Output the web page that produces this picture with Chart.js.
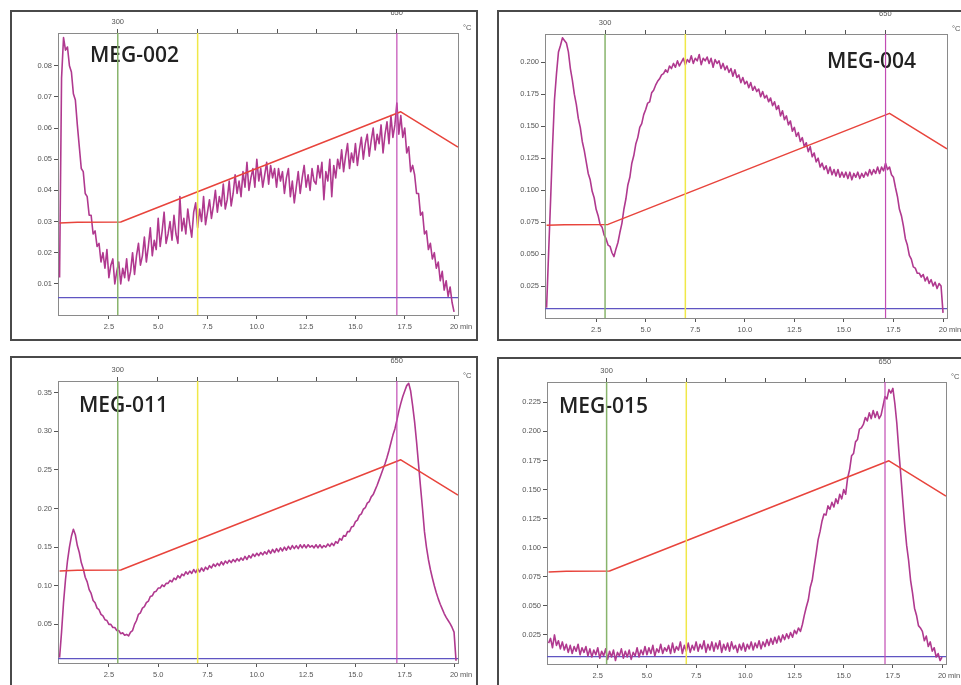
<!DOCTYPE html>
<html>
<head>
<meta charset="utf-8">
<title>MEG thermograms</title>
<script src="https://cdn.jsdelivr.net/npm/chart.js@4.4.0/dist/chart.umd.min.js"></script>
<style>
  html, body { margin: 0; padding: 0; background: #fff; }
  body { width: 961px; height: 685px; position: relative; overflow: hidden; }
  .panel { position: absolute; }
  .panel canvas { position: absolute; left: 0; top: 0; }
  .frame { position: absolute; left: 0; top: 0; box-sizing: border-box; border: 2px solid #4a4a4a; pointer-events: none; }
</style>
</head>
<body>
  <div class="panel" style="left:10px;top:10px;">
    <canvas id="c1" width="468" height="331"></canvas>
    <div class="frame" style="width:468px;height:331px"></div>
  </div>
  <div class="panel" style="left:497px;top:10px;">
    <canvas id="c2" width="464" height="331"></canvas>
    <div class="frame" style="width:490px;height:331px"></div>
  </div>
  <div class="panel" style="left:10px;top:356px;">
    <canvas id="c3" width="468" height="329"></canvas>
    <div class="frame" style="width:468px;height:345px"></div>
  </div>
  <div class="panel" style="left:497px;top:357px;">
    <canvas id="c4" width="464" height="328"></canvas>
    <div class="frame" style="width:490px;height:345px"></div>
  </div>

<script>
// signal readings are stored every 0.1 min, starting at t = 0
const SAMPLE_STEP = 0.1;

// time axis (min)
const TIME_MIN = -0.08;
const TIME_MAX = 20.2;
const timeTicks = [2.5, 5, 7.5, 10, 12.5, 15, 17.5, 20];

// temperature axis along the top (°C)
const TEMP_AXIS_MIN = 225;
const TEMP_AXIS_MAX = 727;
const tempTicks = [300, 350, 400, 450, 500, 550, 600, 650];
const tempTicksLabelled = [300, 650];

// furnace program: time (min) / temperature (°C)
const tempTimes = [0, 0.9, 3.1, 17.3, 20.2];
const tempValues = [297, 299, 300, 650, 538];
const TEMP_SCALE_MIN = 5;
const TEMP_SCALE_MAX = 900;

// event markers (min): 300 °C, 400 °C, 650 °C
const markerTimes = [2.95, 7.0, 17.1];

const sampleNames = ['MEG-002', 'MEG-004', 'MEG-011', 'MEG-015'];
const baselineLevels = [0.0056, 0.0073, 0.0057, 0.0063];

const meg002 = [
  .012, .076, .089, .085, .086, .080, .078, .071, .069, .061,
  .054, .047, .046, .039, .038, .032, .032, .026, .027, .022,
  .023, .017, .020, .015, .021, .012, .016, .018, .010, .014,
  .017, .010, .015, .012, .018, .011, .014, .020, .013, .019,
  .023, .016, .019, .025, .017, .022, .028, .019, .024, .021,
  .031, .022, .027, .033, .023, .026, .030, .024, .032, .026,
  .023, .038, .027, .031, .026, .034, .029, .025, .033, .036,
  .028, .034, .030, .038, .029, .033, .037, .031, .035, .040,
  .033, .038, .035, .042, .034, .037, .043, .035, .039, .045,
  .039, .043, .038, .046, .041, .049, .040, .044, .047, .041,
  .050, .043, .047, .041, .045, .049, .042, .048, .044, .047,
  .041, .047, .043, .046, .039, .044, .047, .038, .043, .036,
  .041, .046, .039, .044, .048, .041, .045, .040, .047, .043,
  .042, .048, .044, .049, .037, .046, .043, .050, .038, .048,
  .044, .050, .047, .053, .046, .051, .055, .047, .052, .049,
  .055, .048, .053, .057, .050, .055, .058, .051, .056, .060,
  .053, .058, .055, .061, .052, .058, .062, .055, .064, .057,
  .061, .068, .058, .064, .057, .060, .052, .054, .046, .048,
  .045, .039, .039, .032, .033, .026, .027, .021, .023, .018,
  .020, .015, .017, .011, .014, .008, .011, .006, .009, .004,
  .001
];

const meg004 = [
  .008, .050, .091, .134, .171, .191, .208, .213, .219, .217,
  .215, .208, .195, .186, .175, .167, .156, .149, .138, .131,
  .122, .113, .108, .099, .094, .085, .080, .073, .071, .065,
  .062, .057, .056, .051, .048, .054, .059, .067, .074, .085,
  .093, .104, .110, .121, .127, .136, .141, .149, .152, .159,
  .163, .168, .169, .176, .178, .182, .185, .187, .190, .191,
  .194, .192, .197, .195, .199, .196, .201, .197, .200, .203,
  .198, .202, .200, .205, .199, .203, .201, .206, .198, .203,
  .201, .204, .199, .203, .196, .202, .199, .201, .195, .199,
  .194, .197, .192, .195, .189, .194, .188, .190, .184, .188,
  .183, .185, .180, .184, .178, .181, .177, .179, .173, .177,
  .172, .174, .169, .172, .166, .169, .163, .166, .158, .162,
  .155, .158, .151, .154, .146, .149, .142, .145, .138, .141,
  .134, .137, .130, .134, .126, .129, .122, .125, .118, .121,
  .116, .119, .113, .118, .112, .116, .111, .116, .110, .114,
  .110, .114, .109, .114, .108, .113, .110, .114, .109, .113,
  .110, .114, .111, .116, .112, .116, .113, .118, .113, .118,
  .115, .121, .116, .118, .112, .110, .102, .095, .085, .080,
  .072, .062, .057, .049, .046, .040, .039, .035, .035, .032,
  .034, .029, .032, .027, .030, .025, .028, .023, .027, .025,
  .004
];

const meg011 = [
  .007, .040, .078, .108, .132, .150, .164, .173, .166, .152,
  .143, .130, .122, .111, .105, .095, .090, .081, .078, .071,
  .069, .063, .061, .056, .055, .050, .050, .046, .046, .042,
  .042, .038, .039, .036, .037, .035, .040, .042, .050, .055,
  .063, .065, .071, .073, .078, .080, .086, .087, .092, .093,
  .097, .097, .101, .099, .103, .103, .107, .105, .110, .108,
  .113, .110, .115, .113, .118, .115, .119, .116, .121, .117,
  .122, .118, .123, .119, .124, .121, .126, .123, .128, .125,
  .129, .126, .131, .127, .132, .129, .133, .130, .134, .131,
  .135, .132, .136, .133, .138, .134, .139, .136, .141, .138,
  .142, .139, .143, .140, .144, .141, .146, .142, .147, .143,
  .148, .144, .149, .145, .150, .146, .151, .147, .152, .148,
  .152, .148, .153, .149, .153, .149, .153, .150, .152, .149,
  .153, .149, .153, .149, .152, .150, .154, .151, .155, .152,
  .157, .155, .161, .159, .165, .164, .170, .170, .176, .177,
  .183, .185, .191, .193, .199, .201, .207, .209, .215, .218,
  .224, .230, .237, .244, .251, .258, .266, .275, .285, .295,
  .303, .314, .326, .336, .345, .352, .359, .362, .352, .333,
  .312, .286, .257, .228, .200, .170, .150, .134, .121, .110,
  .100, .091, .083, .076, .070, .064, .059, .055, .051, .046,
  .040, .003
];

const meg015 = [
  .018, .022, .014, .025, .016, .020, .013, .019, .012, .017,
  .010, .016, .009, .015, .011, .017, .008, .014, .010, .015,
  .007, .013, .006, .012, .008, .014, .005, .011, .007, .013,
  .004, .011, .006, .012, .003, .010, .007, .013, .005, .011,
  .006, .012, .004, .010, .007, .014, .006, .012, .008, .015,
  .008, .014, .009, .016, .007, .013, .010, .017, .009, .014,
  .011, .016, .009, .018, .010, .015, .012, .019, .009, .016,
  .011, .018, .010, .016, .012, .019, .011, .017, .013, .020,
  .010, .017, .012, .019, .011, .018, .013, .020, .010, .017,
  .012, .018, .011, .019, .013, .016, .010, .017, .012, .018,
  .011, .017, .013, .019, .012, .018, .014, .020, .013, .019,
  .015, .021, .016, .022, .017, .023, .018, .024, .019, .025,
  .021, .026, .022, .027, .023, .029, .026, .031, .028, .034,
  .042, .049, .055, .066, .072, .084, .095, .107, .114, .123,
  .129, .128, .136, .133, .139, .135, .142, .138, .146, .142,
  .150, .146, .160, .167, .179, .181, .191, .193, .202, .203,
  .206, .212, .209, .216, .211, .218, .212, .217, .211, .214,
  .222, .230, .228, .236, .233, .237, .224, .207, .184, .163,
  .141, .120, .102, .089, .072, .061, .048, .042, .033, .031,
  .028, .020, .024, .015, .019, .011, .014, .006, .009, .003,
  .006
];

const SIGNAL_COLOR = '#b0398f';
const TEMP_COLOR = '#e8443c';
const BASE_COLOR = '#5f55c2';
const MARKER_COLORS = ['#88b46c', '#f0e848', '#c24cb4'];
const TICK_FONT = { family: 'Liberation Sans', size: 7.5 };
const TICK_COLOR = '#555';

// per-panel layout: axis sizes fix where the plot box sits inside each frame
const panels = [
  { canvas: 'c1', signal: meg002, yMax: 0.0905, yStep: 0.01, yTop: 0.08, digits: 2,
    box: { left: 48, right: 20, top: 23, bottom: 26 }, nameAt: [32, 29] },
  { canvas: 'c2', signal: meg004, yMax: 0.222, yStep: 0.025, yTop: 0.2, digits: 3,
    box: { left: 48, right: 14, top: 24, bottom: 23 }, nameAt: [282, 34] },
  { canvas: 'c3', signal: meg011, yMax: 0.365, yStep: 0.05, yTop: 0.35, digits: 2,
    box: { left: 48, right: 20, top: 25, bottom: 22 }, nameAt: [21, 31] },
  { canvas: 'c4', signal: meg015, yMax: 0.2425, yStep: 0.025, yTop: 0.225, digits: 3,
    box: { left: 50, right: 15, top: 25, bottom: 21 }, nameAt: [12, 31] }
];

// sample name under the traces, unit labels on top
const panelText = {
  id: 'panelText',
  beforeDatasetsDraw(chart, args, opts) {
    const { ctx, chartArea } = chart;
    ctx.save();
    ctx.fillStyle = '#222';
    ctx.font = '600 21px "Open Sans"';
    ctx.textBaseline = 'alphabetic';
    ctx.fillText(opts.name, chartArea.left + opts.nameAt[0], chartArea.top + opts.nameAt[1]);
    ctx.restore();
  },
  afterDraw(chart) {
    const { ctx, chartArea, scales } = chart;
    ctx.save();
    ctx.fillStyle = TICK_COLOR;
    ctx.font = TICK_FONT.size + 'px "' + TICK_FONT.family + '"';
    ctx.textBaseline = 'middle';
    ctx.textAlign = 'left';
    ctx.fillText('°C', chartArea.right + 5, chartArea.top - 5);
    ctx.fillText('min', scales.x.getPixelForValue(20) + 6, chartArea.bottom + 11.5);
    ctx.restore();
  }
};

const axisGrid = { drawOnChartArea: false, tickLength: 4, color: '#555', lineWidth: 1 };
const axisBorder = { color: '#8a8a8a', width: 1 };

function buildPanel(p, idx) {
  const signalPoints = p.signal.map((v, i) => ({ x: +(i * SAMPLE_STEP).toFixed(1), y: v }));
  const tempPoints = tempTimes.map((t, i) => ({ x: t, y: tempValues[i] }));
  const base = baselineLevels[idx];

  const markerSets = markerTimes.map((t, i) => ({
    data: [{ x: t, y: 0 }, { x: t, y: p.yMax }],
    borderColor: MARKER_COLORS[i],
    borderWidth: i === 2 ? 1.2 : 1.5,
    xAxisID: 'x', yAxisID: 'y'
  }));

  new Chart(document.getElementById(p.canvas), {
    type: 'line',
    data: {
      datasets: [
        ...markerSets,
        { data: tempPoints, borderColor: TEMP_COLOR, borderWidth: 1.5, xAxisID: 'x', yAxisID: 'yT' },
        { data: signalPoints, borderColor: SIGNAL_COLOR, borderWidth: 1.6, xAxisID: 'x', yAxisID: 'y' },
        { data: [{ x: TIME_MIN, y: base }, { x: TIME_MAX, y: base }], borderColor: BASE_COLOR,
          borderWidth: 1.2, xAxisID: 'x', yAxisID: 'y' }
      ]
    },
    options: {
      responsive: false,
      animation: false,
      events: [],
      layout: { padding: 0, autoPadding: false },
      elements: {
        point: { radius: 0 },
        line: { tension: 0, borderJoinStyle: 'round', fill: false }
      },
      plugins: {
        legend: { display: false },
        tooltip: { enabled: false },
        panelText: { name: sampleNames[idx], nameAt: p.nameAt }
      },
      scales: {
        x: {
          type: 'linear', position: 'bottom', min: TIME_MIN, max: TIME_MAX,
          grid: axisGrid, border: axisBorder,
          ticks: {
            font: TICK_FONT, color: TICK_COLOR, padding: 3, maxRotation: 0, autoSkip: false,
            callback: (v) => (v === 20 ? '20' : v.toFixed(1))
          },
          afterBuildTicks: (s) => { s.ticks = timeTicks.map(value => ({ value })); },
          afterFit: (s) => { s.height = p.box.bottom; }
        },
        xTop: {
          type: 'linear', position: 'top', min: TEMP_AXIS_MIN, max: TEMP_AXIS_MAX,
          grid: axisGrid, border: axisBorder,
          ticks: {
            font: TICK_FONT, color: TICK_COLOR, padding: 3, maxRotation: 0, autoSkip: false,
            callback: (v) => {
              if (v === tempTicksLabelled[0]) return String(v);
              if (v === tempTicksLabelled[1]) return [String(v), ''];
              return '';
            }
          },
          afterBuildTicks: (s) => { s.ticks = tempTicks.map(value => ({ value })); },
          afterFit: (s) => { s.height = p.box.top; }
        },
        y: {
          type: 'linear', position: 'left', min: 0, max: p.yMax,
          grid: axisGrid, border: axisBorder,
          ticks: {
            stepSize: p.yStep, includeBounds: false, font: TICK_FONT, color: TICK_COLOR, padding: 2,
            autoSkip: false,
            callback: (v) => v.toFixed(p.digits)
          },
          afterBuildTicks: (s) => {
            s.ticks = s.ticks.filter(t => t.value > p.yStep / 2 && t.value < p.yTop + p.yStep / 2);
          },
          afterFit: (s) => { s.width = p.box.left; }
        },
        yT: {
          type: 'linear', position: 'right', min: TEMP_SCALE_MIN, max: TEMP_SCALE_MAX,
          grid: { display: false }, border: axisBorder,
          ticks: { display: false },
          afterFit: (s) => { s.width = p.box.right; }
        }
      }
    },
    plugins: [panelText]
  });
}

panels.forEach(buildPanel);
</script>
</body>
</html>
